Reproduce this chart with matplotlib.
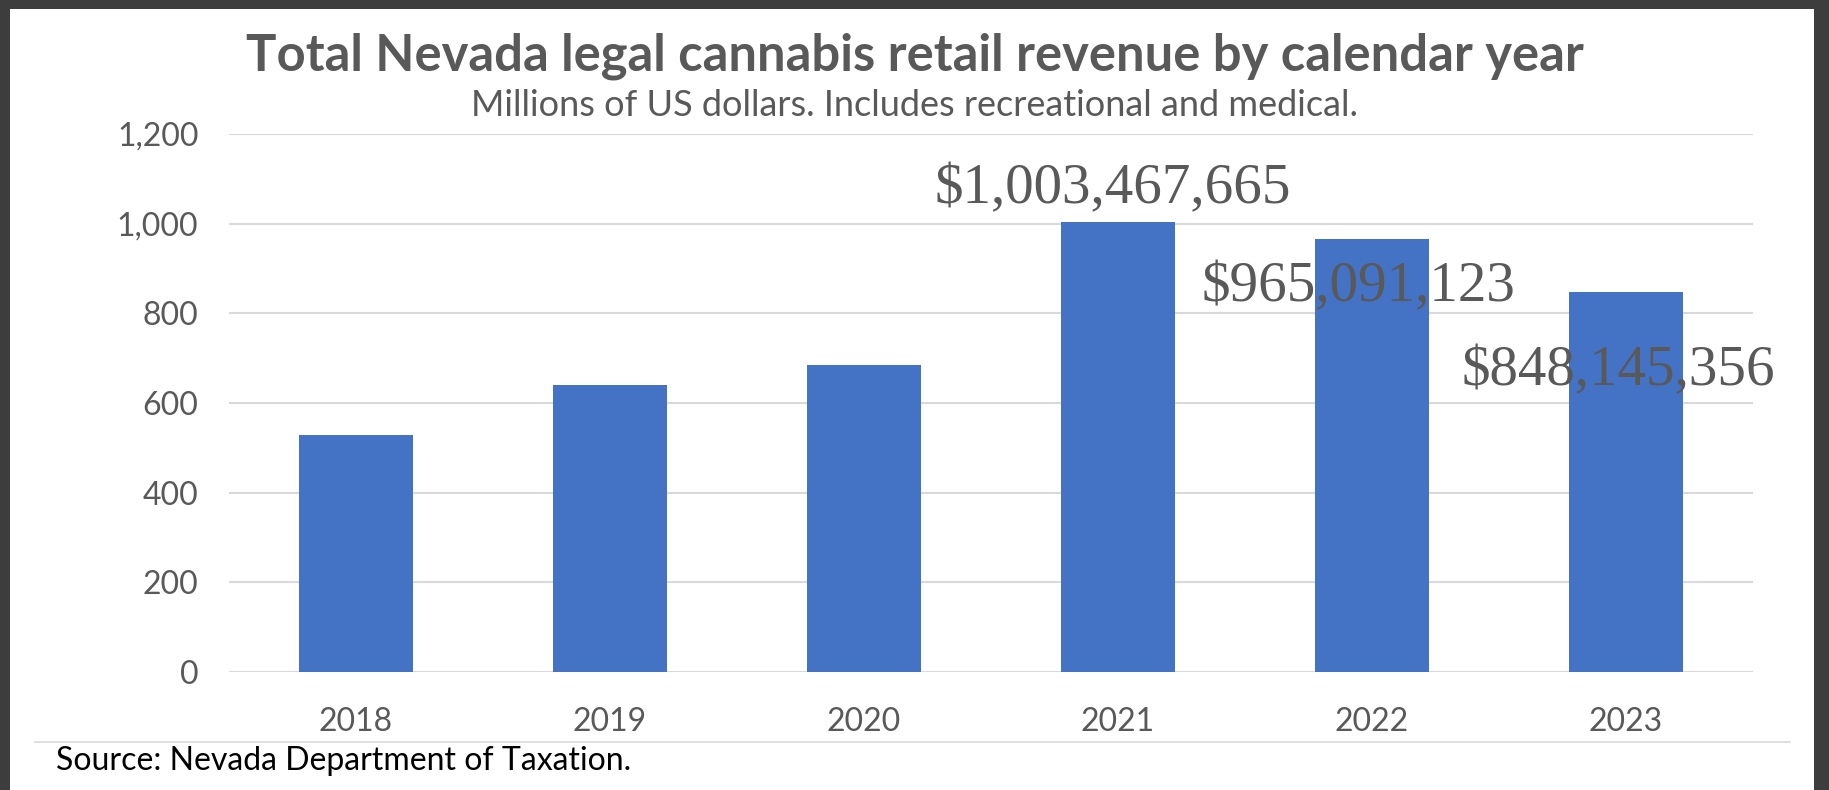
import matplotlib.pyplot as plt
import matplotlib.patches as mpatches
from matplotlib.lines import Line2D

years = ["2018", "2019", "2020", "2021", "2022", "2023"]
revenue_m = [528, 640, 685, 1003.47, 965.09, 848.15]  # millions USD
label_idx = [3, 4, 5]
label_text = ["$1,003,467,665", "$965,091,123", "$848,145,356"]
yticks = [0, 200, 400, 600, 800, 1000, 1200]

# label placement (x offset in categories, y offset in millions)
label_dx = [-0.02, -0.055, -0.03]
label_dy = [41, -138, -208]

gray = "#595959"
blue = "#4472C4"
sans = "Lato"

fig = plt.figure(figsize=(18.29, 7.90), dpi=100, facecolor="#3d3d3d")
# white chart area inside the dark frame
fig.patches.append(mpatches.Rectangle((10 / 1829, 0), (1814 - 10) / 1829, 1 - 9 / 790,
                                      transform=fig.transFigure, facecolor="white",
                                      edgecolor="none", zorder=-1))

ax = fig.add_axes([229 / 1829, 1 - 672 / 790, (1753 - 229) / 1829, (672 - 134) / 790])
ax.set_facecolor("white")

x = range(len(years))
ax.bar(x, revenue_m, width=0.45, color=blue, zorder=3)

ax.set_xlim(-0.5, len(years) - 0.5)
ax.set_ylim(0, 1200)
ax.set_yticks(yticks)
ax.set_yticklabels([f"{v:,}" for v in yticks])
ax.set_xticks(list(x))
ax.set_xticklabels(years)
ax.grid(axis="y", color="#d9d9d9", linewidth=1.5, zorder=0)
ax.tick_params(axis="both", length=0, labelsize=23, labelcolor=gray)
ax.tick_params(axis="y", pad=22)
ax.tick_params(axis="x", pad=25)
for lab in ax.get_xticklabels() + ax.get_yticklabels():
    lab.set_family(sans)
for s in ax.spines.values():
    s.set_visible(False)

for i, t, dx, dy in zip(label_idx, label_text, label_dx, label_dy):
    ax.text(i + dx, revenue_m[i] + dy, t, ha="center", va="baseline",
            fontsize=41, family="Liberation Serif", color=gray, zorder=4)

fig.text(0.5, 1 - 56 / 790, "Total Nevada legal cannabis retail revenue by calendar year",
         ha="center", va="center", fontsize=36.5, fontweight="bold", family=sans, color=gray)
fig.text(0.5, 1 - 105 / 790, "Millions of US dollars. Includes recreational and medical.",
         ha="center", va="center", fontsize=26, family=sans, color=gray)

fig.lines.append(Line2D([35 / 1829, 1790 / 1829], [1 - 742 / 790] * 2,
                        transform=fig.transFigure, color="#d9d9d9", linewidth=1.2))
fig.text(56 / 1829, 1 - 761 / 790, "Source: Nevada Department of Taxation.",
         ha="left", va="center", fontsize=23, family=sans, color="black")

fig.savefig("out.png", dpi=100, facecolor=fig.get_facecolor())
